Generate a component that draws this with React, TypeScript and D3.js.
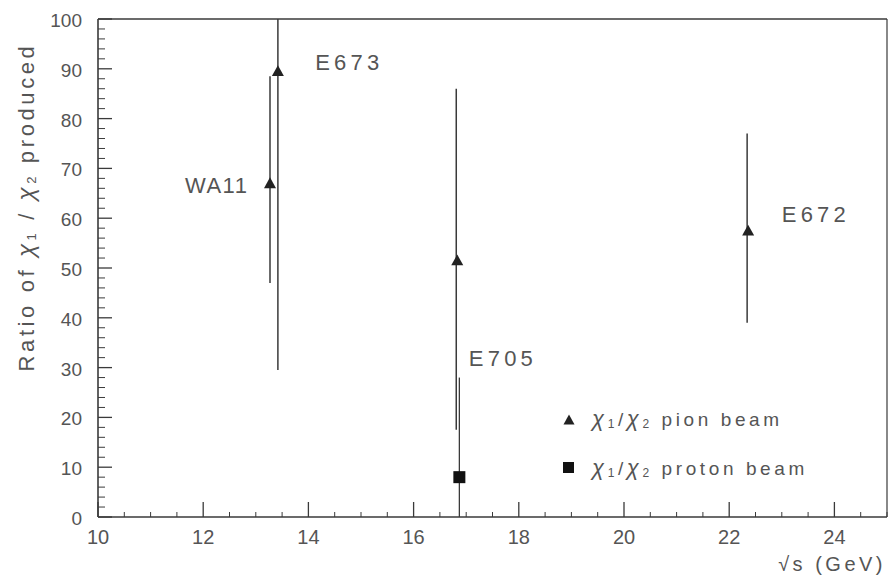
import React from "react";
import * as d3 from "d3";

const pionNames = ["WA11", "E673", "E705", "E672"];
const pionX = [13.27, 13.42, 16.83, 22.36];
const pionY = [67, 89.5, 51.5, 57.5];
const pionLo = [47, 29.5, 17.5, 39];
const pionHi = [88.5, 100, 86, 77];
const pionBarDx = [0, 0, -1, -1];

const protonX = [16.87];
const protonY = [8];
const protonLo = [0];
const protonHi = [28];

const labelX = [12.86, 14.13, 17.05, 23.0];
const labelY = [66.7, 91.4, 32, 60.9];

const xMajor = [10, 12, 14, 16, 18, 20, 22, 24];
const yMajor = [0, 10, 20, 30, 40, 50, 60, 70, 80, 90, 100];

const W = 890, H = 582;
const ink = "#3a3a3a";
const txt = "#555";
const font = "'Liberation Sans', Arial, sans-serif";

export default function App() {
  const x = d3.scaleLinear().domain([10, 25]).range([98, 887]);
  const y = d3.scaleLinear().domain([0, 100]).range([517, 19]);
  const xMinor = d3.range(10, 25.01, 0.5).filter((v) => Math.abs(v / 2 - Math.round(v / 2)) > 1e-6);
  const yMinor = d3.range(0, 100.01, 2).filter((v) => v % 10 !== 0);
  const tri = (cx: number, cy: number, s = 6) => `M${cx},${cy - s}L${cx + s},${cy + s * 0.8}L${cx - s},${cy + s * 0.8}Z`;
  const chi = (n: string, big: number, small: number) => [
    <tspan key={"c" + n} fontSize={big} fontStyle="italic">χ</tspan>,
    <tspan key={"s" + n} fontSize={small} dy="2">{n}</tspan>,
  ];
  return (
    <svg width={W} height={H} style={{ position: "absolute", left: 0, top: 0, background: "#fff" }}>
      {/* frame */}
      <line x1={x(10)} x2={x(25)} y1={y(100)} y2={y(100)} stroke={ink} strokeWidth={1.6} />
      <line x1={x(25)} x2={x(25)} y1={y(100)} y2={y(0)} stroke={ink} strokeWidth={1.2} />
      <line x1={x(10)} x2={x(25)} y1={y(0)} y2={y(0)} stroke={ink} strokeWidth={1.4} />
      <line x1={x(10)} x2={x(10)} y1={y(100)} y2={y(0)} stroke={ink} strokeWidth={1.6} />
      {/* y ticks */}
      {yMajor.map((v) => (
        <g key={"ym" + v}>
          <line x1={x(10)} x2={x(10) + 14} y1={y(v)} y2={y(v)} stroke={ink} strokeWidth={1.3} />
          <text x={82} y={y(v) + 8} textAnchor="end" fontFamily={font} fontSize={19} fill={txt}>{v}</text>
        </g>
      ))}
      {yMinor.map((v) => (
        <line key={"yn" + v} x1={x(10)} x2={x(10) + 7} y1={y(v)} y2={y(v)} stroke={ink} strokeWidth={1} />
      ))}
      {/* x ticks */}
      {xMajor.map((v) => (
        <g key={"xm" + v}>
          <line x1={x(v)} x2={x(v)} y1={y(0)} y2={y(0) - 15} stroke={ink} strokeWidth={1.3} />
          <text x={x(v)} y={544} textAnchor="middle" fontFamily={font} fontSize={20} fill={txt}>{v}</text>
        </g>
      ))}
      {xMinor.map((v) => (
        <line key={"xn" + v} x1={x(v)} x2={x(v)} y1={y(0)} y2={y(0) - 5} stroke={ink} strokeWidth={1} />
      ))}
      {/* axis titles */}
      <text x={886} y={571} textAnchor="end" fontFamily={font} fontSize={20} letterSpacing={3.5} fill={txt}>√s (GeV)</text>
      <text transform={`translate(34,${207}) rotate(-90)`} textAnchor="middle" fontFamily={font} fontSize={22} letterSpacing={3.6} fill={txt}>
        <tspan>Ratio of </tspan>
        {chi("1", 24, 13)}
        <tspan dy="-2"> / </tspan>
        {chi("2", 24, 13)}
        <tspan dy="-2"> produced</tspan>
      </text>
      {/* pion points */}
      {pionX.map((v, i) => (
        <g key={"p" + i}>
          <line x1={x(v) + pionBarDx[i]} x2={x(v) + pionBarDx[i]} y1={y(pionLo[i])} y2={y(pionHi[i])} stroke={ink} strokeWidth={1.5} />
          <path d={tri(x(v), y(pionY[i]))} fill="#222" />
          <text x={x(labelX[i])} y={y(labelY[i]) + 8} textAnchor={i === 0 ? "end" : "start"} fontFamily={font} fontSize={22} letterSpacing={i === 0 ? 1.5 : 4.2} fill={txt}>
            {pionNames[i]}
          </text>
        </g>
      ))}
      {/* proton points */}
      {protonX.map((v, i) => (
        <g key={"q" + i}>
          <line x1={x(v)} x2={x(v)} y1={y(protonLo[i])} y2={y(protonHi[i])} stroke={ink} strokeWidth={1.3} />
          <rect x={x(v) - 6} y={y(protonY[i]) - 6} width={12} height={12} fill="#111" />
        </g>
      ))}
      {/* legend */}
      <path d={tri(569, 420, 5.5)} fill="#222" />
      <text x={592} y={426} fontFamily={font} fontSize={19} letterSpacing={3.6} fill={txt}>
        {chi("1", 22, 12)}
        <tspan dy="-2">/</tspan>
        {chi("2", 22, 12)}
        <tspan dy="-2"> pion beam</tspan>
      </text>
      <rect x={563} y={462} width={11} height={11} fill="#111" />
      <text x={592} y={475} fontFamily={font} fontSize={19} letterSpacing={3.6} fill={txt}>
        {chi("1", 22, 12)}
        <tspan dy="-2">/</tspan>
        {chi("2", 22, 12)}
        <tspan dy="-2"> proton beam</tspan>
      </text>
    </svg>
  );
}
